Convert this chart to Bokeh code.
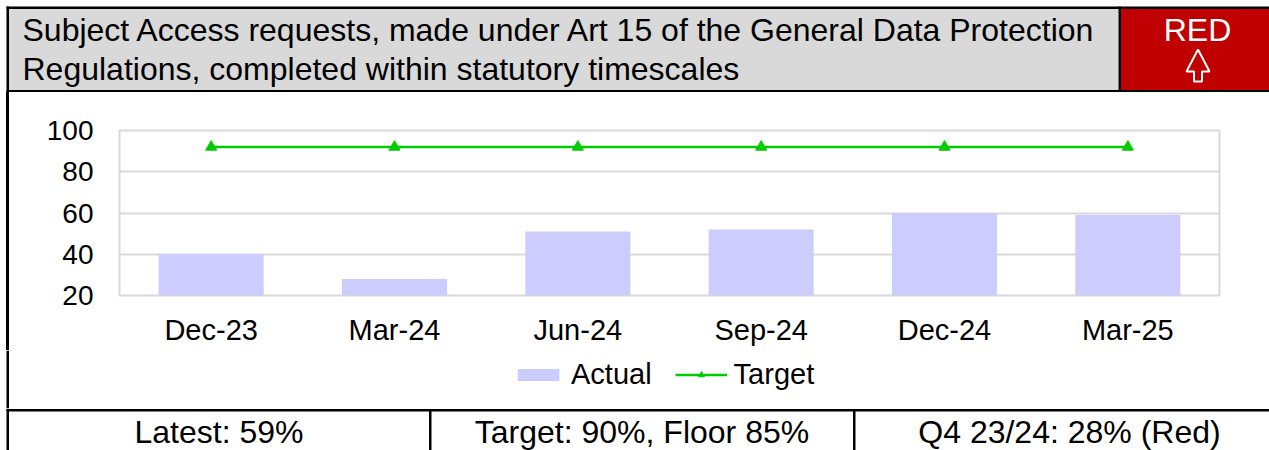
from bokeh.plotting import figure
from bokeh.layouts import column, row
from bokeh.models import Range1d, FactorRange, Legend, LegendItem, FixedTicker, Div
from bokeh.core.properties import value
from bokeh.embed import file_html
from bokeh.resources import INLINE

# ---- data ----
categories = ["Dec-23", "Mar-24", "Jun-24", "Sep-24", "Dec-24", "Mar-25"]
actual = [40, 28, 51, 52, 60, 59]
target = [92, 92, 92, 92, 92, 92]
y_ticks = [20, 40, 60, 80, 100]
Y_MIN, Y_MAX = 20, 100

title_lines = ["Subject Access requests, made under Art 15 of the General Data Protection",
               "Regulations, completed within statutory timescales"]
status_text = "RED"
footer_texts = ["Latest: 59%", "Target: 90%, Floor 85%", "Q4 23/24: 28% (Red)"]
legend_labels = ["Actual", "Target"]

# ---- layout geometry (page pixels) ----
FONT = "Liberation Sans"
PW = 1269
HEAD_H = 92          # header band: 0..92
CHART_BOT = 350      # chart band: 92..350
FOOT_TOP = 408       # legend band: 350..408, footer band: 408..450
PH = 450
STRIP_W = 9
FL, FR, FT, FB = 119, 1219, 130, 295   # chart frame
BASE_FIX = -7.5      # text glyph baseline correction
BIG = "32px"

BAR_COLOR = "#ccccff"
TARGET_COLOR = "#00cc00"


def deco_fig(w, y0, y1, x0=0):
    f = figure(width=w, height=y1 - y0, x_range=Range1d(x0, x0 + w), y_range=Range1d(y1, y0),
               x_axis_type=None, y_axis_type=None, output_backend="svg", toolbar_location=None,
               min_border=0, min_border_left=0, min_border_right=0,
               min_border_top=0, min_border_bottom=0)
    f.outline_line_color = None
    f.background_fill_color = "white"
    f.border_fill_color = "white"
    return f


def rect(f, l, r, t, b, color):
    f.quad(left=[l], right=[r], top=[t], bottom=[b], fill_color=color, line_color=None)


def txt(f, x, y, s, color="black", align="left", size=BIG):
    f.text(x=[x], y=[y + BASE_FIX], text=[s], text_font=value(FONT), text_font_size=value(size),
           text_color=color, text_align=align, text_baseline="alphabetic")


# ---- header ----
head = deco_fig(PW, 0, HEAD_H)
rect(head, 8.5, 1118, 8.5, 89.5, "#d9d9d9")
rect(head, 1120.5, PW, 8.5, 89.5, "#c00000")
rect(head, 6, PW, 6, 8.5, "black")
rect(head, 6, 8.5, 6, HEAD_H, "black")
rect(head, 6, PW, 89.5, HEAD_H, "black")
rect(head, 1118, 1120.5, 6, 90, "black")
txt(head, 22, 36.5, title_lines[0])
txt(head, 22, 75.5, title_lines[1])
txt(head, 1197, 36.5, status_text, color="white", align="center")
head.patch(x=[1197.5, 1209, 1201.5, 1201.5, 1193.5, 1193.5, 1186, 1197.5],
           y=[49, 71, 71, 81, 81, 71, 71, 49],
           fill_alpha=0, line_color="white", line_width=2)

# ---- left border next to the chart ----
strip = Div(text='<div style="margin:0 0 0 6px;padding:0;width:2.5px;height:%dpx;'
                 'background:#000000;"></div>' % (CHART_BOT - HEAD_H),
            width=STRIP_W, height=CHART_BOT - HEAD_H, margin=0)

# ---- chart ----
p = figure(width=PW - STRIP_W, height=CHART_BOT - HEAD_H,
           x_range=FactorRange(*categories), y_range=Range1d(Y_MIN, Y_MAX),
           output_backend="svg", toolbar_location=None,
           min_border_left=FL - STRIP_W, min_border_right=PW - FR,
           min_border_top=FT - HEAD_H, min_border_bottom=CHART_BOT - FB)
p.background_fill_color = "white"
p.border_fill_color = "white"
p.outline_line_color = "#d9d9d9"
p.outline_line_width = 2

p.vbar(x=categories, top=actual, bottom=Y_MIN, width=0.573,
       fill_color=BAR_COLOR, line_color=None)
p.line(x=categories, y=target, line_color=TARGET_COLOR, line_width=2.5)
p.scatter(x=categories, y=target, marker="triangle", size=11,
          fill_color=TARGET_COLOR, line_color=TARGET_COLOR)

p.xgrid.grid_line_color = None
p.ygrid.grid_line_color = "#d9d9d9"
p.ygrid.grid_line_width = 2
p.yaxis.ticker = FixedTicker(ticks=y_ticks)

for axis in (p.xaxis[0], p.yaxis[0]):
    axis.axis_line_color = None
    axis.major_tick_line_color = None
    axis.minor_tick_line_color = None
    axis.major_tick_out = 0
    axis.major_tick_in = 0
    axis.minor_tick_out = 0
    axis.major_label_text_font = FONT
    axis.major_label_text_color = "black"
p.xaxis.major_label_text_font_size = "29px"
p.yaxis.major_label_text_font_size = "28px"
p.xaxis.major_label_standoff = 18
p.yaxis.major_label_standoff = 26

# ---- legend band (legend swatch proxies sit outside the visible range) ----
leg = deco_fig(PW, CHART_BOT, FOOT_TOP)
rect(leg, 6, 8.5, CHART_BOT, FOOT_TOP, "black")
OFF = -1000
sw_bar = leg.vbar(x=[OFF], top=[OFF + 1], bottom=[OFF], width=1,
                  fill_color=BAR_COLOR, line_color=None)
sw_line = leg.line(x=[OFF, OFF + 1], y=[OFF, OFF], line_color=TARGET_COLOR, line_width=2.5)
sw_pts = leg.scatter(x=[OFF], y=[OFF], marker="triangle", size=11,
                     fill_color=TARGET_COLOR, line_color=TARGET_COLOR)
legend = Legend(items=[LegendItem(label=legend_labels[0], renderers=[sw_bar]),
                       LegendItem(label=legend_labels[1], renderers=[sw_line, sw_pts])],
                location=(512, 17), orientation="horizontal",
                border_line_color=None, background_fill_alpha=0,
                padding=0, margin=0, spacing=23, label_standoff=7,
                glyph_width=52, glyph_height=15, label_height=15,
                label_text_font=FONT, label_text_font_size="29px", label_text_color="black")
leg.add_layout(legend)

# ---- footer ----
foot = deco_fig(PW, FOOT_TOP, PH)
rect(foot, 6, PW, 408.5, 411, "black")
rect(foot, 6, 8.5, FOOT_TOP, PH, "black")
rect(foot, 428.5, 431, 410, PH, "black")
rect(foot, 852.5, 855, 410, PH, "black")
txt(foot, 218.5, 439, footer_texts[0], align="center")
txt(foot, 641.5, 439, footer_texts[1], align="center")
txt(foot, 1069, 439, footer_texts[2], align="center")

layout = column(head, row(strip, p, spacing=0), leg, foot, spacing=0)
open("out.html", "w").write(file_html(layout, INLINE))
